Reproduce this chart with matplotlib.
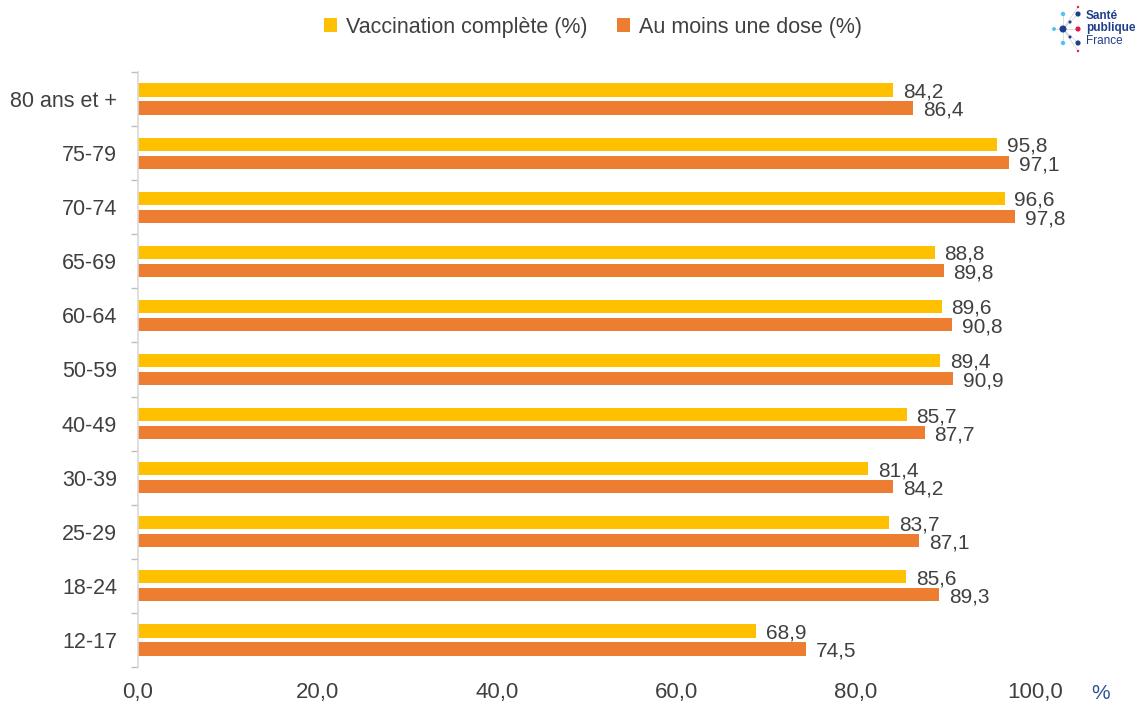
import numpy as np
import matplotlib.pyplot as plt

plt.rcParams['font.family'] = ['Liberation Sans', 'DejaVu Sans']

# Données (lecture du graphique), de bas en haut
categories = ['12-17', '18-24', '25-29', '30-39', '40-49', '50-59',
              '60-64', '65-69', '70-74', '75-79', '80 ans et +']
vacc_complete = [68.9, 85.6, 83.7, 81.4, 85.7, 89.4, 89.6, 88.8, 96.6, 95.8, 84.2]
une_dose = [74.5, 89.3, 87.1, 84.2, 87.7, 90.9, 90.8, 89.8, 97.8, 97.1, 86.4]
xticks = [0, 20, 40, 60, 80, 100]

yellow = '#FFC000'
orange = '#ED7D31'
txt = '#404040'

fig = plt.figure(figsize=(11.38, 7.04), dpi=100)
ax = fig.add_axes([0.1213, 0.0526, 0.7882, 0.8451])

y = np.arange(len(categories))
h = 0.245
ax.barh(y + 0.166, vacc_complete, height=h, color=yellow, label='Vaccination complète (%)')
ax.barh(y - 0.166, une_dose, height=h, color=orange, label='Au moins une dose (%)')

for yi, v in zip(y, vacc_complete):
    ax.text(v + 1.1, yi + 0.13, f'{v:.1f}'.replace('.', ','), va='center', ha='left',
            fontsize=15, color=txt)
for yi, v in zip(y, une_dose):
    ax.text(v + 1.1, yi - 0.21, f'{v:.1f}'.replace('.', ','), va='center', ha='left',
            fontsize=15, color=txt)

ax.set_xlim(0, 100)
ax.set_ylim(-0.5, len(categories) - 0.5)
ax.set_xticks(xticks)
ax.set_xticklabels([f'{t:.1f}'.replace('.', ',') for t in xticks], fontsize=16, color=txt)
ax.set_yticks(y)
ax.set_yticklabels(categories, fontsize=15.5, color=txt)
ax.set_yticks(np.arange(len(categories) + 1) - 0.5, minor=True)
ax.tick_params(axis='y', which='major', length=0, pad=15)
ax.tick_params(axis='y', which='minor', length=5, color='#BFBFBF', width=1)
ax.tick_params(axis='x', length=0, pad=11)

for s in ['top', 'right', 'bottom']:
    ax.spines[s].set_visible(False)
ax.spines['left'].set_color('#D9D9D9')
ax.spines['left'].set_linewidth(1.2)

fig.text(0.9675, 0.002, '%', color='#2F5597', fontsize=15, ha='center', va='bottom')

fig.legend(loc='upper center', bbox_to_anchor=(0.521, 1.004), ncol=2, frameon=False,
           fontsize=15.5, handlelength=0.6, handleheight=0.6, columnspacing=1.4,
           handletextpad=0.4, labelcolor=txt)

# Logo Santé publique France (approximatif, coordonnées en pixels)
lax = fig.add_axes([1045 / 1138, 1 - 60 / 704, 40 / 1138, 60 / 704])
lax.set_xlim(1045, 1085)
lax.set_ylim(60, 0)
lax.axis('off')
logo_x = [1063, 1054, 1063, 1063, 1070, 1070, 1078, 1078, 1078, 1078, 1078]
logo_y = [29, 29, 14, 43, 22, 37, 14, 43, 29, 7, 51]
logo_s = [26, 8, 10, 10, 5, 5, 14, 14, 14, 3, 3]
logo_c = ['#1F3E8C', '#4FC3F7', '#4FC3F7', '#4FC3F7', '#1F3E8C', '#1F3E8C',
          '#1F3E8C', '#1F3E8C', '#E6194B', '#E6194B', '#E6194B']
for px, py in zip(logo_x[1:], logo_y[1:]):
    lax.plot([1063, px], [29, py], color='#D0D0D0', lw=0.5, zorder=1)
lax.scatter(logo_x, logo_y, s=logo_s, c=logo_c, linewidths=0, zorder=5)
fig.text(1086 / 1138, 1 - 10 / 704, 'Santé', fontsize=8.5, fontweight='bold', color='#1F3E8C', va='top')
fig.text(1086 / 1138, 1 - 22 / 704, 'publique', fontsize=8.5, fontweight='bold', color='#1F3E8C', va='top')
fig.text(1086 / 1138, 1 - 35 / 704, 'France', fontsize=8.5, color='#1F3E8C', va='top')

fig.savefig('out.png', dpi=100)
